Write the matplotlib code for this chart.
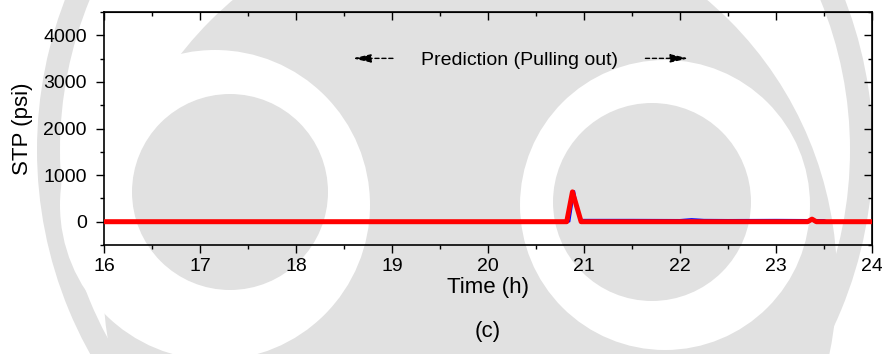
import matplotlib
matplotlib.use("Agg")
import matplotlib.pyplot as plt
from matplotlib.ticker import MultipleLocator
from matplotlib.patches import Circle, Wedge

plt.rcParams['font.family'] = ['Liberation Sans', 'DejaVu Sans']

# Data
red_time = [16.0, 20.82, 20.88, 20.97, 23.33, 23.375, 23.42, 24.0]
red_stp = [0, 0, 640, 0, 0, 55, 0, 0]
blue_time = [16.0, 20.85, 20.90, 20.95, 21.0, 21.5, 22.0, 22.12, 22.25, 22.5, 23.0, 23.3, 23.5, 23.55, 24.0]
blue_stp = [0, 0, 660, 45, 45, 45, 42, 60, 45, 42, 45, 42, 40, 0, 0]

x_ticks = [16, 17, 18, 19, 20, 21, 22, 23, 24]
y_ticks = [0, 1000, 2000, 3000, 4000]

W, H = 882, 354
fig = plt.figure(figsize=(W/100, H/100), dpi=100)

# light grey background watermark (decoration), in pixel coordinates
bg = fig.add_axes([0, 0, 1, 1], zorder=0)
bg.set_xlim(0, W)
bg.set_ylim(H, 0)
bg.axis('off')
wm = '#e1e1e1'
bg.add_patch(Wedge((455, 150), 418, 0, 360, width=23, facecolor=wm, edgecolor='none'))
for (cx, cy, r, col) in [(470, 280, 367, wm), (215, 205, 155, 'white'), (665, 205, 145, 'white'),
                         (230, 192, 98, wm), (652, 202, 99, wm)]:
    bg.add_patch(Circle((cx, cy), r, facecolor=col, edgecolor='none'))

ax = fig.add_axes([104/W, 1-245/H, (872-104)/W, (245-12)/H], zorder=1)
ax.set_facecolor('none')

ax.plot(blue_time, blue_stp, color='#0000ff', lw=1.1, zorder=3)
ax.plot(red_time, red_stp, color='#ff0000', lw=3.6, zorder=4)

ax.set_xlim(16, 24)
ax.set_ylim(-500, 4500)
ax.set_xticks(x_ticks)
ax.set_yticks(y_ticks)
ax.xaxis.set_minor_locator(MultipleLocator(0.5))
ax.yaxis.set_minor_locator(MultipleLocator(500))
ax.tick_params(which='major', direction='out', length=6, width=1, labelsize=14)
ax.tick_params(axis='x', which='major', pad=3.6)
ax.tick_params(axis='y', which='major', pad=6.5)
ax.tick_params(which='minor', direction='out', length=3, width=1)
for s in ax.spines.values():
    s.set_linewidth(1.2)

# mirrored ticks (inward) on top and right
top = ax.secondary_xaxis('top')
top.set_xticks(x_ticks)
top.xaxis.set_minor_locator(MultipleLocator(0.5))
top.tick_params(which='major', direction='in', length=6, width=1, labeltop=False)
top.tick_params(which='minor', direction='in', length=3, width=1)
right = ax.secondary_yaxis('right')
right.set_yticks(y_ticks)
right.yaxis.set_minor_locator(MultipleLocator(500))
right.tick_params(which='major', direction='in', length=6, width=1, labelright=False)
right.tick_params(which='minor', direction='in', length=3, width=1)

ax.set_xlabel('Time (h)', fontsize=16, labelpad=1.5)
ax.set_ylabel('STP (psi)', fontsize=16, labelpad=7)

ax.text(20.33, 3460, 'Prediction (Pulling out)', ha='center', va='center', fontsize=14)
arrow_kw = dict(arrowstyle='-|>,head_length=1.1,head_width=0.25', linestyle=(0, (3, 2)), lw=1.0,
                color='black', mutation_scale=10, shrinkA=0, shrinkB=0)
ax.annotate('', xy=(18.59, 3505), xytext=(19.01, 3505), arrowprops=arrow_kw)
ax.annotate('', xy=(22.09, 3505), xytext=(21.64, 3505), arrowprops=arrow_kw)

fig.text(488/W, 1-332/H, '(c)', ha='center', va='center', fontsize=16)

fig.savefig('out.png', dpi=100)
